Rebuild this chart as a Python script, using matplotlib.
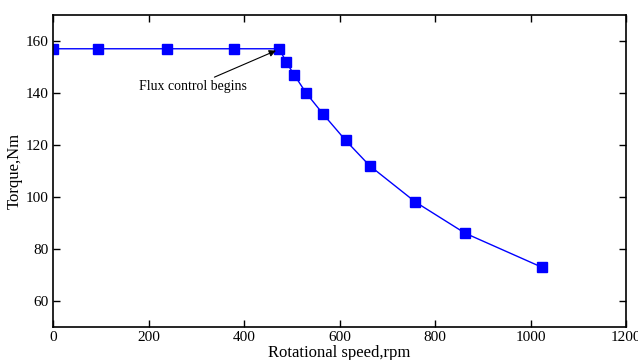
import matplotlib
matplotlib.use("Agg")
import matplotlib.pyplot as plt

# speed (rpm) and torque (Nm)
speed = [0, 95, 238, 380, 474, 488, 505, 530, 565, 613, 663, 759, 863, 1025]
torque = [157, 157, 157, 157, 157, 152, 147, 140, 132, 121.7, 112, 98, 86, 72.8]

x_ticks = [0, 200, 400, 600, 800, 1000, 1200]
y_ticks = [60, 80, 100, 120, 140, 160]

plt.rcParams['font.family'] = ['Liberation Serif', 'DejaVu Serif']

fig = plt.figure(figsize=(6.38, 3.6), dpi=100)
ax = fig.add_axes([53 / 638, 1 - 326.7 / 360, (626 - 53) / 638, (326.7 - 15) / 360])

ax.plot(speed, torque, color='#0000ff', lw=1, marker='s', markersize=7,
        markerfacecolor='#0000ff', markeredgecolor='#0000ff')

ax.annotate('Flux control begins', xy=(467, 156.3), xytext=(293, 142.5),
            ha='center', va='center', fontsize=10,
            arrowprops=dict(arrowstyle='-|>', color='black', lw=0.8,
                            shrinkA=0, shrinkB=0, mutation_scale=10))

ax.set_xlim(0, 1200)
ax.set_ylim(50, 170)
ax.set_xticks(x_ticks)
ax.set_yticks(y_ticks)
ax.tick_params(direction='in', top=True, right=True, length=5, width=1, labelsize=11, pad=3)
for s in ax.spines.values():
    s.set_linewidth(1.2)

ax.set_xlabel('Rotational speed,rpm', fontsize=12, labelpad=1)
ax.set_ylabel('Torque,Nm', fontsize=12, labelpad=2)

fig.savefig('out.png', dpi=100)
